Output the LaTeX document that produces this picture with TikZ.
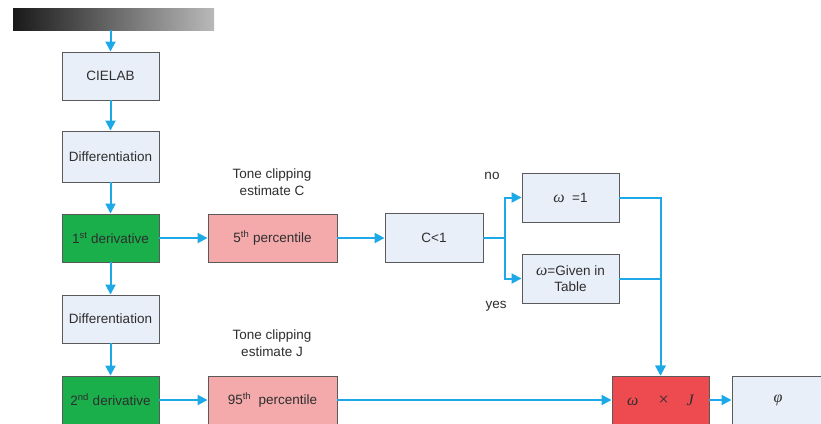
\documentclass[tikz,border=0pt]{standalone}
\usepackage{fontspec}
\setmainfont{Liberation Sans}
\newfontfamily\symfont{Liberation Serif}
\usetikzlibrary{arrows.meta}

\definecolor{flowblue}{HTML}{1DA8E8}
\definecolor{boxline}{HTML}{5A5A5A}
\definecolor{procfill}{HTML}{E9EFF8}
\definecolor{derivgreen}{HTML}{1AAF4B}
\definecolor{pctpink}{HTML}{F4A9AB}
\definecolor{prodred}{HTML}{EE4B50}
\definecolor{textgray}{HTML}{2E2E2E}

% italic serif letters for the symbols
\newcommand{\varsym}[1]{{\symfont\itshape\fontsize{16}{16}\selectfont #1}}

\tikzset{
  procbox/.style={draw=boxline, line width=0.9pt, fill=procfill, minimum width=97pt,
    minimum height=48pt, inner sep=1pt, align=center, text=textgray,
    font=\fontsize{13.5}{16}\selectfont},
  greenbox/.style={procbox, fill=derivgreen},
  pinkbox/.style={procbox, fill=pctpink, minimum width=129pt},
  redbox/.style={procbox, fill=prodred},
  flow/.style={draw=flowblue, line width=2pt, -{Triangle[length=10pt,width=10pt]}},
  note/.style={align=center, text=textgray, font=\fontsize{13.5}{17.5}\selectfont}
}

\begin{document}
\begin{tikzpicture}[x=1pt, y=-1pt]

\useasboundingbox[fill=white] (0,0) rectangle (821,423);

% Input bar
\node (bar) [minimum width=201pt, minimum height=22pt, inner sep=0pt,
  left color=black!90, right color=gray!55] at (113.5,19) {};

% Left column
\node (cielab) [procbox] at (110.5,76) {CIELAB};
\node (diff1) [procbox, minimum height=51pt] at (110.5,156.5) {Differentiation};
\node (d1) [greenbox] at (110.5,238) {1\textsuperscript{st} derivative};
\node (diff2) [procbox] at (110.5,319) {Differentiation};
\node (d2) [greenbox] at (110.5,400) {2\textsuperscript{nd} derivative};

% Percentiles
\node (p5) [pinkbox] at (272.5,238) {5\textsuperscript{th} percentile};
\node (p95) [pinkbox] at (272.5,400) {95\textsuperscript{th}\ \ percentile};
\node (lblC) [note] at (272,182) {Tone clipping\\estimate C};
\node (lblJ) [note] at (272,343) {Tone clipping\\estimate J};

% Decision
\node (cless) [procbox, minimum width=98pt, minimum height=49pt] at (434,238) {C\textless1};
\node (wone) [procbox, minimum height=49pt] at (570.5,197.5) {\varsym{ω}\ \ =1};
\node (wtab) [procbox, minimum height=49pt] at (570.5,278.5) {\varsym{ω}=Given in\\Table};
\node (no) [note] at (492,176) {no};
\node (yes) [note] at (496,306) {yes};
\coordinate (split) at (505,238);

% Product and result
\node (prod) [redbox] at (660.5,400) {\varsym{ω}\hspace{20pt}{\symfont\fontsize{18}{18}\selectfont ×}\hspace{18pt}\varsym{J}};
\node (phi) [procbox, minimum width=92pt] at (778,400) {\varsym{φ}};

% Connectors
\draw[flow] (bar.south -| cielab.north) -- (cielab);
\draw[flow] (cielab) -- (diff1);
\draw[flow] (diff1) -- (d1);
\draw[flow] (d1) -- (diff2);
\draw[flow] (diff2) -- (d2);
\draw[flow] (d1) -- (p5);
\draw[flow] (p5) -- (cless);
\draw[flow] (d2) -- (p95);
\draw[flow, -] (cless) -- (split);
\draw[flow] (split) |- (wone);
\draw[flow] (split) |- (wtab);
\draw[flow] (wone.east) -| (prod.north);
\draw[flow] (wtab.east) -| (prod.north);
\draw[flow] (p95) -- (prod);
\draw[flow] (prod) -- (phi);

\end{tikzpicture}
\end{document}
